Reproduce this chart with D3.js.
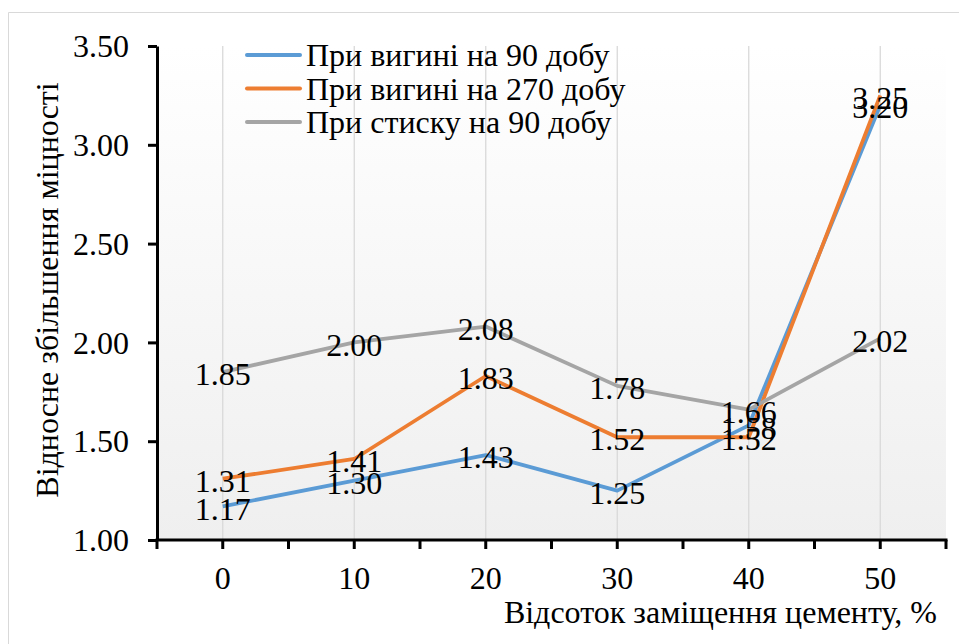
<!DOCTYPE html>
<html>
<head>
<meta charset="utf-8">
<script src="https://cdn.jsdelivr.net/npm/d3@7"></script>
</head>
<body style="margin:0;background:#fff">
<svg id="chart" width="959" height="644" style="display:block"></svg>
<script>
// Replacement share of cement, %
const categories = ["0", "10", "20", "30", "40", "50"];
// Relative strength gain per series
const flex90 = [1.17, 1.30, 1.43, 1.25, 1.58, 3.20];
const flex270 = [1.31, 1.41, 1.83, 1.52, 1.52, 3.25];
const comp90 = [1.85, 2.00, 2.08, 1.78, 1.66, 2.02];
const seriesNames = ["При вигині на 90 добу", "При вигині на 270 добу", "При стиску на 90 добу"];
const yTicks = [1.00, 1.50, 2.00, 2.50, 3.00, 3.50];

const series = [
  { name: seriesNames[0], values: flex90, color: "#5b9bd5" },
  { name: seriesNames[1], values: flex270, color: "#ed7d31" },
  { name: seriesNames[2], values: comp90, color: "#a5a5a5" }
];

const svg = d3.select("#chart");
const plot = { left: 157, right: 946, top: 46, bottom: 540 };
const FS = 32;

function addText(parent, str) {
  return parent.append("text")
    .attr("font-family", "Liberation Serif")
    .attr("font-size", FS)
    .attr("fill", "#000")
    .text(str);
}

// outer chart frame (left and top edges visible)
svg.append("path")
  .attr("d", "M8.5,644 L8.5,12.5 L959,12.5")
  .attr("fill", "none").attr("stroke", "#d9d9d9").attr("stroke-width", 1);

const grad = svg.append("defs").append("linearGradient")
  .attr("id", "bg").attr("x1", 0).attr("y1", 0).attr("x2", 0).attr("y2", 1);
grad.append("stop").attr("offset", "0%").attr("stop-color", "#ffffff");
grad.append("stop").attr("offset", "100%").attr("stop-color", "#efefef");

svg.append("rect")
  .attr("x", plot.left).attr("y", plot.top)
  .attr("width", plot.right - plot.left).attr("height", plot.bottom - plot.top)
  .attr("fill", "url(#bg)");

const x = d3.scaleBand().domain(categories).range([plot.left, plot.right]).padding(0);
const y = d3.scaleLinear().domain([1, 3.5]).range([plot.bottom, plot.top]);
const cx = c => x(c) + x.bandwidth() / 2;

// vertical gridlines at category centres
svg.append("g").selectAll("line").data(categories).join("line")
  .attr("x1", d => cx(d)).attr("x2", d => cx(d))
  .attr("y1", plot.top).attr("y2", plot.bottom)
  .attr("stroke", "#d9d9d9").attr("stroke-width", 1.3);

// series lines
const line = d3.line().x((d, i) => cx(categories[i])).y(d => y(d));
series.forEach(s => {
  svg.append("path").datum(s.values)
    .attr("d", line)
    .attr("fill", "none")
    .attr("stroke", s.color)
    .attr("stroke-width", 3.8)
    .attr("stroke-linejoin", "round");
});

// y axis (ticks from d3, labels drawn separately)
const yAxis = d3.axisLeft(y).tickValues(yTicks).tickFormat("").tickSize(9).tickSizeOuter(0);
const gy = svg.append("g").attr("transform", `translate(${plot.left},0)`).call(yAxis);
gy.select(".domain").attr("stroke", "#000").attr("stroke-width", 3);
gy.selectAll(".tick line").attr("stroke", "#000").attr("stroke-width", 3);
yTicks.forEach(v => {
  addText(svg, d3.format(".2f")(v))
    .attr("x", 129).attr("y", y(v)).attr("dy", "0.35em")
    .attr("text-anchor", "end");
});

// x axis: ticks at band edges and at category centres
const gx = svg.append("g").attr("transform", `translate(0,${plot.bottom})`);
gx.append("line").attr("x1", plot.left - 1.5).attr("x2", plot.right + 1.5)
  .attr("stroke", "#000").attr("stroke-width", 3);
const edgeTicks = categories.map(c => x(c)).concat([plot.right]);
gx.selectAll(".edge").data(edgeTicks).join("line").attr("class", "edge")
  .attr("x1", d => d).attr("x2", d => d).attr("y1", 0).attr("y2", 9)
  .attr("stroke", "#000").attr("stroke-width", 3);
gx.selectAll(".mid").data(categories).join("line").attr("class", "mid")
  .attr("x1", d => cx(d)).attr("x2", d => cx(d)).attr("y1", 0).attr("y2", 9)
  .attr("stroke", "#000").attr("stroke-width", 3);
categories.forEach(c => {
  addText(svg, c).attr("x", cx(c)).attr("y", 578).attr("dy", "0.35em")
    .attr("text-anchor", "middle");
});

// data labels centred on points
series.forEach(s => {
  s.values.forEach((v, i) => {
    addText(svg, d3.format(".2f")(v))
      .attr("x", cx(categories[i])).attr("y", y(v) + 2).attr("dy", "0.35em")
      .attr("text-anchor", "middle");
  });
});

// legend
series.forEach((s, i) => {
  const yy = 55 + i * 33.5;
  svg.append("line").attr("x1", 247).attr("x2", 300).attr("y1", yy).attr("y2", yy)
    .attr("stroke", s.color).attr("stroke-width", 4).attr("stroke-linecap", "round");
  addText(svg, s.name).attr("x", 306).attr("y", yy).attr("dy", "0.35em");
});

// axis titles
addText(svg, "Відносне збільшення міцності")
  .attr("transform", "translate(47,290) rotate(-90)")
  .attr("text-anchor", "middle").attr("dy", "0.35em");

addText(svg, "Відсоток заміщення цементу, %")
  .attr("x", 937).attr("y", 612).attr("dy", "0.35em")
  .attr("text-anchor", "end");
</script>
</body>
</html>
